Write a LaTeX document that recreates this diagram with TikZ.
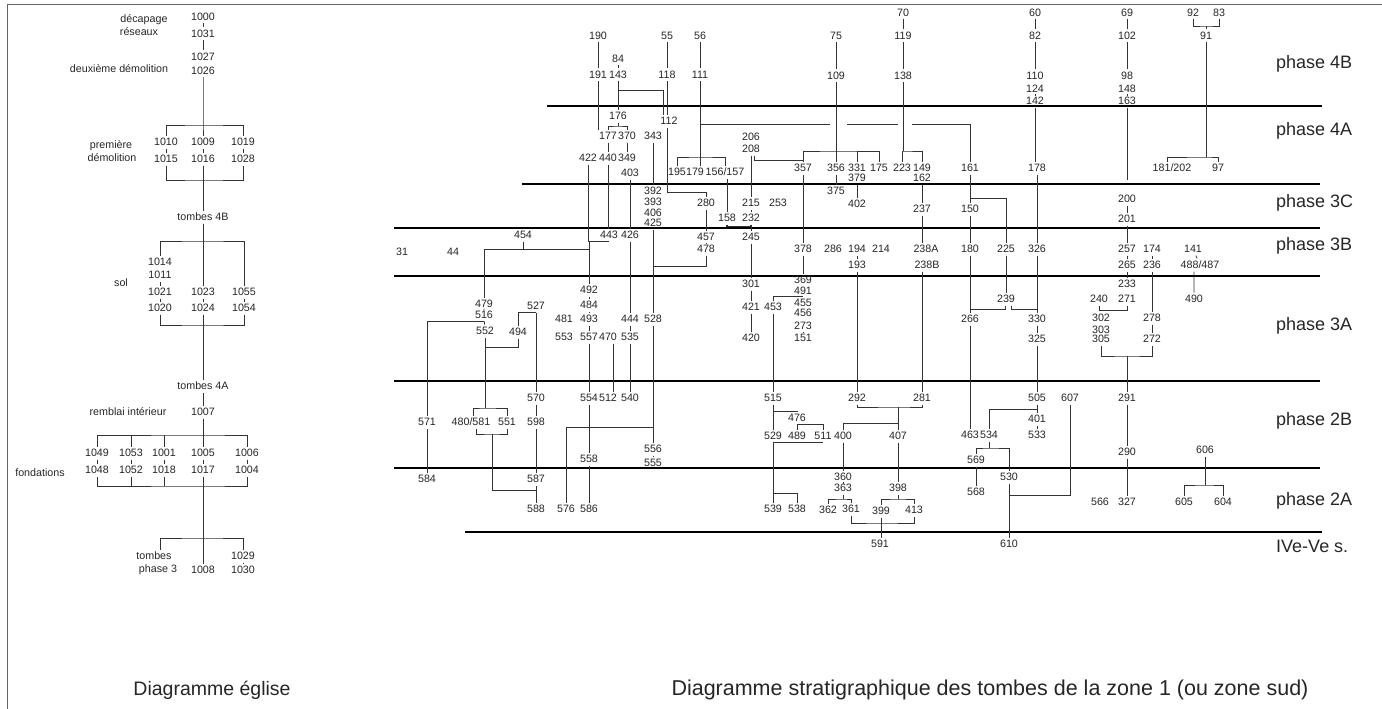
\documentclass[tikz,border=0pt]{standalone}
\usepackage{fontspec}
\setmainfont{Liberation Sans}
\begin{document}
\begin{tikzpicture}[x=1pt,y=-1pt,
 u/.style={font=\fontsize{10.7}{12}\selectfont, text=black!85, inner xsep=0.5pt, inner ysep=2.5pt, text height=7.6pt, text depth=0pt},
 ln/.style={draw=black!80, line width=0.75pt},
 phl/.style={draw=black, line width=2pt},
 ph/.style={font=\fontsize{18}{21}\selectfont, anchor=base west, text=black!85, inner sep=0pt},
 ttl/.style={anchor=base, text=black!85, inner sep=0pt}]
\useasboundingbox (0,0) rectangle (1382,709);
\fill[white] (0,0) rectangle (1382,709);
\draw[black!60, line width=0.8pt] (7,709) -- (7,4) -- (1382,4);

% ---------- left diagram: nodes ----------
\foreach \n/\x/\y in {1000/203/17,1031/203/34,1027/203/57,1026/203/71,
 1010/166/142,1009/203/142,1019/243/142,1015/166/159,1016/203/159,1028/243/159,
 1014/160/262,1011/160/275,1021/160/292,1020/160/308,1023/203/292,1024/203/308,1055/244/292,1054/244/308,
 1007/203/412,1049/97/453,1053/131/453,1001/164/453,1005/203/453,1006/247/453,
 1048/97/470,1052/131/470,1018/164/470,1017/203/470,1004/247/470,
 1008/203/570,1029/243/556,1030/243/570}
 \node[u] (n\n) at (\x,\y) {\n};
\node[u] (tdec) at (144,19) {décapage};
\node[u] (tres) at (139,32) {réseaux};
\node[u] (tdeux) at (119,69) {deuxième démolition};
\node[u] (tprem) at (111,145) {première};
\node[u] (tdemo) at (112,158) {démolition};
\node[u] (t4B) at (203,217) {tombes 4B};
\node[u] (tsol) at (121,283) {sol};
\node[u] (t4A) at (203,386) {tombes 4A};
\node[u] (trem) at (128,412) {remblai intérieur};
\node[u] (tfond) at (40,473) {fondations};
\node[u] (ttombes) at (154,556) {tombes};
\node[u] (tph3) at (158,569) {phase 3};

% ---------- left diagram: connectors ----------
\draw[ln] (n1000)--(n1031) (n1031)--(n1027);
\coordinate (jA) at (203,125);
\draw[ln] (n1026.south) -- (jA) -- (n1009.north);
\draw[ln] (n1010.north) |- (jA) -| (n1019.north);
\draw[ln] (n1010)--(n1015) (n1009)--(n1016) (n1019)--(n1028);
\coordinate (jB) at (203,180);
\draw[ln] (n1015.south) |- (jB) -| (n1028.south);
\draw[ln] (n1016.south) -- (t4B.north);
\coordinate (jC) at (203,241);
\draw[ln] (t4B.south) -- (n1023.north);
\draw[ln] (n1014.north) |- (jC) -| (n1055.north);
\draw[ln] (n1014)--(n1011) (n1011)--(n1021) (n1021)--(n1020) (n1023)--(n1024) (n1055)--(n1054);
\coordinate (jD) at (203,325);
\draw[ln] (n1020.south) |- (jD) -| (n1054.south);
\draw[ln] (n1024.south) -- (t4A.north);
\draw[ln] (t4A) -- (n1007);
\coordinate (jE) at (203,435);
\draw[ln] (n1007.south) -- (n1005.north);
\draw[ln] (n1049.north) |- (jE) -| (n1006.north);
\draw[ln] (n1053.north) -- (n1053.north |- jE) (n1001.north) -- (n1001.north |- jE);
\draw[ln] (n1049)--(n1048) (n1053)--(n1052) (n1001)--(n1018) (n1005)--(n1017) (n1006)--(n1004);
\coordinate (jF) at (203,486);
\draw[ln] (n1048.south) |- (jF) -| (n1004.south);
\draw[ln] (n1052.south) -- (n1052.south |- jF) (n1018.south) -- (n1018.south |- jF);
\draw[ln] (n1017.south) -- (n1008.north);
\coordinate (jG) at (203,538);
\draw[ln] ([xshift=6pt]ttombes.north) |- (jG) -| (n1029.north);
\draw[ln] (n1029)--(n1030);

% ---------- phase lines ----------
\draw[phl] (547,106) -- (1322,106);
\draw[phl] (522,184) -- (1320,184);
\draw[phl] (394,228) -- (1320,228);
\draw[phl] (394,276) -- (1320,276);
\draw[phl] (394,381) -- (1320,381);
\draw[phl] (394,468) -- (1320,468);
\draw[phl] (465,532) -- (1322,532);

\node[ph] (p4B) at (1276,69) {phase 4B};
\node[ph] (p4A) at (1276,135) {phase 4A};
\node[ph] (p3C) at (1276,207) {phase 3C};
\node[ph] (p3B) at (1276,250) {phase 3B};
\node[ph] (p3A) at (1276,330) {phase 3A};
\node[ph] (p2B) at (1276,425) {phase 2B};
\node[ph] (p2A) at (1276,505) {phase 2A};
\node[ph] (pIV) at (1276,552) {IVe-Ve s.};

\node[ttl, font=\fontsize{19.5}{22}\selectfont] (title1) at (212,695) {Diagramme église};
\node[ttl, font=\fontsize{21.5}{24}\selectfont] (title2) at (990,695) {Diagramme stratigraphique des tombes de la zone 1 (ou zone sud)};

% ---------- main diagram: nodes ----------
\foreach \n/\x/\y in {190/598/36,191/598/75,84/618/59,143/618/75,55/667/36,118/667/75,56/700/36,111/700/75,
 75/836/36,109/836/76,70/903/13,119/903/36,138/903/76,60/1035/13,82/1035/36,110/1035/76,124/1035/89,142/1035/101,
 69/1127/13,102/1127/36,98/1127/76,148/1127/89,163/1127/101,92/1193/13,83/1219/13,91/1206/36,
 176/618/116,112/669/121,177/608/136,370/627/136,343/653/136,422/588/158,440/608/158,349/627/158,403/630/173,
 195/677/172,179/695/172,206/751/137,208/751/149,357/803/168,356/836/168,331/857/168,175/879/168,223/902/168,
 149/922/168,161/970/168,178/1037/168,379/857/178,162/922/178,97/1218/168,
 375/836/191,402/857/204,392/653/191,393/653/202,406/653/213,425/653/223,280/706/203,215/751/203,253/778/203,
 158/727/218,232/751/218,237/922/209,150/970/209,200/1127/199,201/1127/219,
 454/523/235,443/609/235,426/630/235,31/402/252,44/453/252,457/706/237,478/706/249,245/751/237,378/803/249,
 286/833/249,194/857/249,214/881/249,180/970/249,225/1006/249,326/1037/249,257/1127/249,174/1152/249,141/1193/249,
 193/857/265,265/1127/265,236/1152/265,
 301/751/284,421/751/307,420/751/338,453/773/307,369/803/280,491/803/291,455/803/303,456/803/313,273/803/326,151/803/338,
 492/589/290,484/589/305,481/564/319,493/589/319,553/564/337,557/589/337,470/608/337,535/630/337,444/630/319,528/653/319,
 479/484/304,516/484/315,552/485/331,494/518/332,527/536/306,
 233/1127/284,240/1099/299,271/1127/299,490/1194/299,239/1006/299,266/970/319,330/1037/319,325/1037/339,
 302/1101/318,303/1101/330,305/1101/339,278/1152/318,272/1152/339,
 570/536/398,554/589/398,512/608/398,540/630/398,571/427/422,551/507/422,598/536/422,556/653/449,555/653/463,558/589/459,
 515/773/398,292/857/398,281/922/398,505/1037/398,607/1070/398,291/1127/398,476/797/418,
 529/773/436,489/797/436,511/823/436,400/843/436,407/898/436,463/970/435,534/989/435,401/1037/419,533/1037/435,
 569/976/460,290/1127/452,606/1205/450,
 584/427/479,587/536/479,588/536/509,576/566/509,586/589/509,360/843/477,363/843/488,398/898/488,
 362/828/510,361/851/509,399/881/511,413/914/510,539/773/509,538/797/509,530/1009/477,568/976/492,
 566/1100/502,327/1127/502,605/1184/502,604/1223/502,591/880/544,610/1009/544}
 \node[u] (n\n) at (\x,\y) {\n};
\node[u] (n156) at (725,172) {156/157};
\node[u] (n181) at (1172,168) {181/202};
\node[u] (n238A) at (926,249) {238A};
\node[u] (n238B) at (927,265) {238B};
\node[u] (n488) at (1200,265) {488/487};
\node[u] (n480) at (471,422) {480/581};

% ---------- main diagram: connectors ----------
% phase 4B
\draw[ln] (n190)--(n191);
\draw[ln] (n191.south) -- (n191.south |- n177.north);
\draw[ln] (n84)--(n143) (n143)--(n176);
\coordinate (j143) at (618,90); \coordinate (j112a) at (663,115);
\draw[ln] (j143) -| (j112a);
\draw[ln] (n55)--(n118) (n118.south) -- (n118.south |- n112.north);
\draw[ln] (n56)--(n111) (n111.south) -- (n111.south |- n179.north);
\coordinate (j179) at (700,157);
\draw[ln] (n195.north) |- (j179) -| (n156.north);
\coordinate (j111) at (700,124); \coordinate (j111b) at (830,124); \coordinate (j111c) at (847,124);
\coordinate (j111d) at (898,124); \coordinate (j111e) at (912,124);
\draw[ln] (j111) -- (j111b) (j111c) -- (j111d) (j111e) -| (n161.north);
\draw[ln] (n75)--(n109) (n109)--(n356);
\coordinate (j356) at (836,151);
\draw[ln] (n357.north) |- (j356) -| (n175.north);
\draw[ln] (n331.north) -- (n331.north |- j356);
\draw[ln] (n70)--(n119) (n119)--(n138);
\coordinate (j138) at (903,151);
\draw[ln] (n138.south) -- (j138);
\draw[ln] (n223.north) |- (j138) -| (n149.north);
\draw[ln] (n60)--(n82) (n82)--(n110) (n110)--(n124) (n124)--(n142);
\draw[ln] (n142.south) -- (n142.south |- n178.north);
\draw[ln] (n69)--(n102) (n102)--(n98) (n98)--(n148) (n148)--(n163);
\coordinate (j163) at (1127,180);
\draw[ln] (n163.south) -- (j163);
\coordinate (j91) at (1206,26);
\draw[ln] (n92.south) |- (j91) -| (n83.south);
\draw[ln] (j91) -- (n91.north);
\coordinate (j97) at (1206,157);
\draw[ln] (n91.south) -- (j97);
\draw[ln] ([xshift=-5pt]n181.north) |- (j97) -| (n97.north);

% phase 4A
\coordinate (j176) at (618,126);
\draw[ln] (n176.south) -- (j176);
\draw[ln] (n177.north) |- (j176) -| (n370.north);
\draw[ln] (n177)--(n440) (n370)--(n349);
\draw[ln] (n343.south) -- (n343.south |- n392.north);
\draw[ln] (n208.south) -- (n208.south |- n215.north);
\draw[ln] ([xshift=3pt]n208.south) -- ++(0,5) -| (n357.north);
\draw[ln] (n356)--(n375) (n379)--(n402) (n162)--(n237) (n161)--(n150);
\coordinate (j225) at (970,198);
\draw[ln] (j225) -| (n225.north);
\draw[ln] (n178)--(n326) (n357)--(n378);

% phase 3C
\coordinate (j280) at (706,192);
\draw[ln] ([xshift=-2pt]n112.south) |- (j280) -- (n280.north);
\draw[ln] (n280)--(n457) (n457)--(n478);
\coordinate (j478) at (653,266);
\draw[ln] (n478.south) |- (j478);
\draw[ln] (n425)--(n528);
\draw[ln] (n158.north |- n156.south) -- (n158.north);
\draw[ln] (n215)--(n232);
\draw[ln, line width=1.5pt] (n158.south) -- ++(0,2) -| (n232.south);
\draw[ln] (n232)--(n245) (n245)--(n301) (n301)--(n421) (n421)--(n420);
\draw[ln] (n200)--(n201) (n201)--(n257) (n257)--(n265) (n265)--(n233);

% phase 3B
\draw[ln] (n403)--(n426) (n426)--(n444) (n444)--(n535) (n535)--(n540);
\draw[ln] (n440.south) -- (n440.south |- n443.north);
\draw[ln] (n422.south) |- (n443.south);
\draw[ln] (n492.north |- n443.south) -- (n492.north);
\coordinate (j454) at (523,249);
\draw[ln] (n454.south) -- (j454);
\draw[ln] (n479.north) |- (n492.north |- j454);
\draw[ln] (n237.south) -- (n237.south |- n238A.north);
\draw[ln] (n237.south |- n238B.south) -- (n237.south |- n281.north);
\draw[ln] (n194)--(n193) (n193)--(n292);
\draw[ln] (n150)--(n180) (n180)--(n266);
\draw[ln] (n225)--(n239);
\draw[ln] (n174)--(n236) (n236)--(n278) (n278)--(n272);
\draw[ln] (n141)--(n488) (n490.north |- n488.south) -- (n490.north);
\draw[ln] (n378)--(n369);

% phase 3A
\draw[ln] (n456)--(n273) (n273)--(n151);
\coordinate (j491) at (803,296);
\draw[ln] (n453.north) |- (j491);
\draw[ln] (n453)--(n515);
\draw[ln] (n492)--(n484) (n484)--(n493) (n493)--(n557) (n557)--(n554) (n554)--(n558) (n558)--(n586);
\draw[ln] ([xshift=5pt]n470.south) -- ([xshift=5pt]n512.north);
\draw[ln] (n479)--(n516) (n516)--(n552);
\draw[ln] (n571.north) |- (n516.south);
\draw[ln] (n494.north) |- (n527.south);
\draw[ln] (n527)--(n570) (n570)--(n598) (n598)--(n587) (n587)--(n588);
\coordinate (j494) at (485,347);
\draw[ln] (n494.south) |- (j494);
\coordinate (j552) at (485,408);
\draw[ln] (n552.south) -- (j552);
\draw[ln] ([xshift=2pt]n480.north) |- (j552) -| (n551.north);
\coordinate (j480) at (492,434);
\coordinate (j588) at (536,490);
\draw[ln] ([xshift=5pt]n480.south) |- (j480) -| (n551.south);
\draw[ln] (j480) |- (j588);
\draw[ln] (n571)--(n584);
\draw[ln] (n528)--(n556) (n556)--(n555);
\coordinate (j576) at (653,427);
\draw[ln] (j576) -| (n576.north);
\coordinate (j266) at (970,309); \coordinate (j330) at (1037,309);
\draw[ln] ([xshift=-1pt]n239.south) |- (j266);
\draw[ln] ([xshift=5pt]n239.south) |- (j330);
\draw[ln] (n326)--(n330) (n330)--(n325) (n325)--(n505) (n505)--(n401) (n401)--(n533);
\draw[ln] (n240.south) -- ++(0,5) -| (n271.south);
\coordinate (j291) at (1127,356);
\draw[ln] (n305.south) |- (j291) -| (n272.south);
\draw[ln] (j291) -- (n291.north);
\draw[ln] (n291)--(n290) (n290)--(n327);

% phase 2B / 2A
\draw[ln] (n515)--(n529) (n529.south) -- (n539.north);
\coordinate (j476) at (773,411);
\draw[ln] (j476) -| (n476.north);
\draw[ln] (n489.north) -- ++(0,-5) -| (n511.north);
\draw[ln] (n529.south) -- (n511.south);
\coordinate (j538) at (773,493);
\draw[ln] (j538) -| (n538.north);
\coordinate (j281) at (898,407);
\draw[ln] (n292.south) |- (j281) -| (n281.south);
\draw[ln] (j281) -- (n407.north);
\coordinate (j400) at (898,423);
\draw[ln] (j400) -| (n400.north);
\draw[ln] (n400)--(n360) (n360)--(n363);
\coordinate (j363) at (843,499);
\draw[ln] (n363.south) -- (j363);
\draw[ln] (n362.north) |- (j363) -| (n361.north);
\draw[ln] (n407)--(n398);
\coordinate (j398) at (898,499);
\draw[ln] (n398.south) -- (j398);
\draw[ln] (n399.north) |- (j398) -| (n413.north);
\coordinate (j591) at (881,523);
\draw[ln] (n361.south) |- (j591) -| (n413.south);
\draw[ln] (n399.south) -- (n399.south |- n591.north);
\draw[ln] (n266)--(n463);
\coordinate (j505) at (1037,409);
\draw[ln] (j505) -| (n534.north);
\coordinate (j534) at (989,448);
\draw[ln] (n534.south) -- (j534);
\draw[ln] (n569.north) |- (j534) -| (n530.north);
\draw[ln] (n569)--(n568);
\draw[ln] (n530)--(n610);
\coordinate (j607) at (1009,495);
\draw[ln] (n607.south) |- (j607);
\coordinate (j606) at (1205,485);
\draw[ln] (n606.south) -- (j606);
\draw[ln] (n605.north) |- (j606) -| (n604.north);
\end{tikzpicture}
\end{document}
